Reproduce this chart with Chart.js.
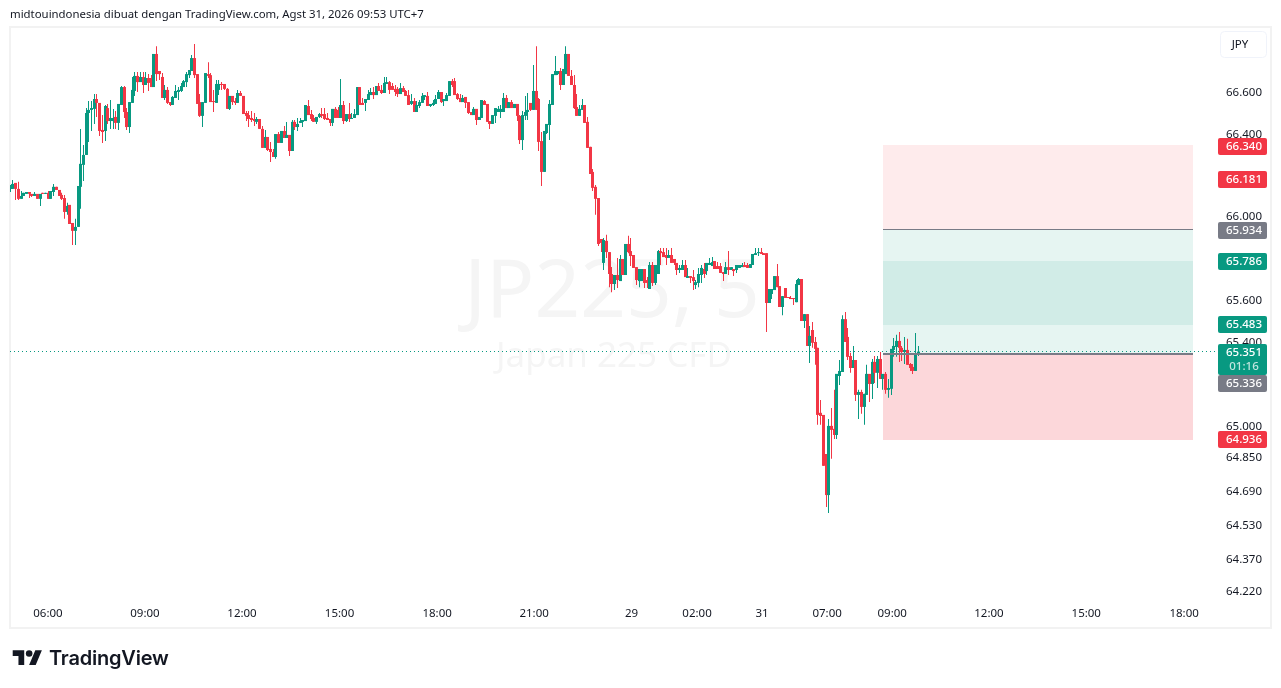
<!DOCTYPE html>
<html>
<head>
<meta charset="utf-8">
<title>JP225, 5</title>
<script src="https://cdn.jsdelivr.net/npm/chart.js@4/dist/chart.umd.min.js"></script>
<style>
    html, body { margin: 0; padding: 0; background: #fff; overflow: hidden; }
    #wrap { position: relative; width: 1281px; height: 688px; }
    #chart { position: absolute; left: 0; top: 0; }
    #header { position: absolute; left: 10px; top: 6px; font: 11.4px "Noto Sans", sans-serif; color: #131722; white-space: nowrap; }
    #logo { position: absolute; left: 12px; top: 647px; }
    #brand { position: absolute; left: 49px; top: 646px; font: 600 20px Inter, sans-serif; color: #131722; letter-spacing: -0.2px; }
</style>
</head>
<body>
<div id="wrap">
    <canvas id="chart" width="1281" height="688"></canvas>
    <div id="header">midtouindonesia dibuat dengan TradingView.com, Agst 31, 2026 09:53 UTC+7</div>
    <svg id="logo" width="31" height="23" viewBox="0 0 36 28"><path fill="#131722" d="M14 22H7V11H0V4h14v18zM28 22h-8l7.5-18h8L28 22z"/><circle fill="#131722" cx="20" cy="8" r="4"/></svg>
    <div id="brand">TradingView</div>
</div>
<script>
// Candles (5 minute bars, oldest first)
const opens = [
66.131,66.131,66.160,66.131,66.083,66.097,66.107,66.116,66.107,66.097,
66.107,66.083,66.112,66.107,66.112,66.083,66.116,66.141,66.126,66.102,
66.087,66.020,66.054,65.967,65.929,65.948,66.141,66.247,66.295,66.498,
66.513,66.518,66.566,66.547,66.416,66.411,66.522,66.459,66.459,66.479,
66.450,66.537,66.624,66.503,66.430,66.547,66.605,66.678,66.648,66.673,
66.634,66.668,66.668,66.624,66.785,66.702,66.673,66.571,66.610,66.551,
66.537,66.571,66.600,66.605,66.624,66.648,66.682,66.702,66.765,66.687,
66.551,66.484,66.547,66.687,66.682,66.556,66.547,66.610,66.639,66.639,
66.615,66.518,66.581,66.556,66.547,66.595,66.581,66.498,66.488,66.474,
66.469,66.455,66.469,66.421,66.329,66.382,66.324,66.309,66.285,66.396,
66.353,66.411,66.377,66.392,66.314,66.455,66.430,66.450,66.455,66.459,
66.532,66.493,66.474,66.455,66.479,66.493,66.493,66.474,66.469,66.450,
66.518,66.513,66.474,66.537,66.459,66.493,66.469,66.474,66.488,66.624,
66.547,66.547,66.561,66.585,66.600,66.585,66.629,66.610,66.595,66.639,
66.648,66.629,66.615,66.615,66.590,66.619,66.605,66.585,66.542,66.556,
66.503,66.532,66.547,66.576,66.581,66.532,66.537,66.542,66.566,66.600,
66.556,66.556,66.581,66.653,66.653,66.590,66.571,66.551,66.576,66.551,
66.503,66.488,66.518,66.464,66.474,66.556,66.542,66.459,66.445,66.484,
66.503,66.503,66.503,66.571,66.522,66.551,66.522,66.542,66.484,66.367,
66.484,66.503,66.547,66.513,66.605,66.566,66.362,66.213,66.401,66.440,
66.537,66.682,66.687,66.702,66.634,66.687,66.785,66.678,66.634,66.527,
66.484,66.513,66.537,66.455,66.334,66.213,66.141,66.087,65.890,65.775,
65.881,65.827,65.722,65.674,65.717,65.688,65.794,65.717,65.866,65.832,
65.813,65.755,65.688,65.688,65.746,65.693,65.650,65.765,65.679,65.722,
65.832,65.827,65.813,65.799,65.813,65.794,65.775,65.741,65.741,65.765,
65.703,65.712,65.707,65.669,65.679,65.717,65.746,65.736,65.765,65.760,
65.784,65.760,65.760,65.731,65.722,65.755,65.741,65.746,65.741,65.751,
65.755,65.765,65.765,65.751,65.765,65.813,65.822,65.827,65.822,65.822,
65.583,65.626,65.645,65.712,65.664,65.564,65.655,65.611,65.607,65.607,
65.587,65.669,65.698,65.497,65.530,65.378,65.454,65.397,65.369,65.060,
65.050,64.865,64.671,64.998,64.984,64.955,65.235,65.254,65.506,65.421,
65.330,65.273,65.311,65.145,65.159,65.088,65.145,65.245,65.197,65.302,
65.250,65.316,65.221,65.245,65.169,65.174,65.359,65.373,65.402,65.369,
65.349,65.359,65.292,65.278,65.259,65.340];
const highs = [
66.150,66.174,66.160,66.165,66.121,66.112,66.116,66.116,66.107,66.116,
66.107,66.107,66.112,66.112,66.121,66.121,66.155,66.141,66.126,66.112,
66.102,66.064,66.054,65.967,65.987,66.145,66.421,66.343,66.522,66.556,
66.556,66.590,66.590,66.547,66.488,66.537,66.542,66.561,66.518,66.508,
66.542,66.629,66.629,66.522,66.551,66.673,66.697,66.697,66.697,66.697,
66.697,66.687,66.682,66.785,66.823,66.702,66.692,66.634,66.624,66.551,
66.581,66.634,66.624,66.644,66.658,66.697,66.707,66.780,66.833,66.687,
66.590,66.551,66.692,66.745,66.692,66.610,66.658,66.658,66.648,66.639,
66.619,66.581,66.581,66.571,66.610,66.605,66.581,66.508,66.508,66.508,
66.498,66.479,66.469,66.435,66.416,66.382,66.358,66.324,66.396,66.406,
66.411,66.435,66.455,66.392,66.464,66.464,66.474,66.474,66.464,66.537,
66.561,66.513,66.488,66.479,66.498,66.522,66.522,66.498,66.469,66.518,
66.527,66.527,66.663,66.556,66.493,66.547,66.498,66.518,66.624,66.624,
66.571,66.566,66.610,66.619,66.624,66.629,66.644,66.634,66.673,66.673,
66.653,66.644,66.634,66.624,66.644,66.629,66.610,66.610,66.590,66.571,
66.556,66.561,66.595,66.585,66.600,66.542,66.561,66.585,66.610,66.600,
66.566,66.595,66.653,66.663,66.668,66.595,66.590,66.585,66.576,66.551,
66.503,66.527,66.518,66.479,66.561,66.561,66.542,66.459,66.488,66.522,
66.532,66.537,66.595,66.585,66.551,66.561,66.542,66.542,66.488,66.508,
66.581,66.595,66.547,66.731,66.823,66.571,66.406,66.411,66.445,66.561,
66.687,66.775,66.702,66.717,66.712,66.823,66.785,66.707,66.682,66.590,
66.537,66.566,66.537,66.479,66.334,66.227,66.150,66.087,65.890,65.895,
65.910,65.827,65.755,65.717,65.799,65.813,65.794,65.866,65.905,65.895,
65.813,65.755,65.746,65.746,65.746,65.707,65.779,65.779,65.765,65.837,
65.847,65.847,65.847,65.837,65.847,65.794,65.775,65.765,65.789,65.789,
65.751,65.712,65.741,65.693,65.751,65.765,65.775,65.775,65.799,65.803,
65.784,65.779,65.775,65.731,65.779,65.832,65.755,65.746,65.765,65.765,
65.775,65.779,65.775,65.770,65.818,65.847,65.847,65.847,65.822,65.822,
65.650,65.650,65.712,65.770,65.664,65.616,65.655,65.611,65.616,65.607,
65.693,65.703,65.698,65.530,65.530,65.473,65.492,65.421,65.369,65.121,
65.050,64.865,65.031,65.083,65.169,65.245,65.311,65.525,65.540,65.464,
65.345,65.378,65.311,65.169,65.169,65.150,65.288,65.245,65.316,65.330,
65.330,65.349,65.245,65.254,65.221,65.364,65.416,65.431,65.445,65.378,
65.421,65.412,65.297,65.292,65.440,65.378];
const lows = [
66.116,66.131,66.078,66.078,66.083,66.097,66.107,66.087,66.092,66.097,
66.083,66.049,66.107,66.107,66.083,66.083,66.097,66.126,66.097,66.078,
65.987,66.006,65.962,65.861,65.861,65.948,66.035,66.169,66.295,66.358,
66.411,66.445,66.479,66.387,66.353,66.362,66.445,66.421,66.421,66.421,
66.416,66.537,66.474,66.416,66.401,66.547,66.581,66.600,66.648,66.595,
66.634,66.605,66.624,66.624,66.653,66.658,66.571,66.561,66.542,66.532,
66.537,66.571,66.561,66.600,66.624,66.624,66.668,66.702,66.668,66.542,
66.479,66.430,66.547,66.668,66.551,66.503,66.547,66.585,66.610,66.610,
66.518,66.513,66.537,66.537,66.547,66.581,66.493,66.459,66.430,66.455,
66.435,66.445,66.421,66.329,66.329,66.314,66.261,66.285,66.276,66.353,
66.353,66.377,66.377,66.290,66.314,66.416,66.411,66.450,66.430,66.459,
66.488,66.459,66.455,66.445,66.474,66.474,66.464,66.464,66.435,66.435,
66.474,66.474,66.474,66.445,66.455,66.455,66.469,66.474,66.488,66.537,
66.537,66.508,66.561,66.585,66.566,66.585,66.605,66.590,66.595,66.639,
66.590,66.610,66.581,66.576,66.590,66.600,66.581,66.537,66.537,66.503,
66.503,66.522,66.547,66.561,66.532,66.527,66.532,66.542,66.566,66.547,
66.532,66.556,66.581,66.624,66.585,66.561,66.551,66.551,66.522,66.493,
66.488,66.488,66.440,66.464,66.474,66.537,66.455,66.421,66.445,66.450,
66.503,66.474,66.503,66.522,66.522,66.522,66.522,66.459,66.348,66.319,
66.464,66.464,66.508,66.513,66.513,66.314,66.145,66.213,66.396,66.367,
66.537,66.682,66.682,66.610,66.634,66.687,66.678,66.634,66.518,66.484,
66.484,66.513,66.450,66.329,66.203,66.121,66.006,65.856,65.827,65.741,
65.799,65.659,65.635,65.645,65.655,65.688,65.717,65.717,65.822,65.760,
65.751,65.669,65.659,65.688,65.655,65.655,65.650,65.664,65.669,65.722,
65.765,65.803,65.765,65.799,65.775,65.765,65.717,65.727,65.741,65.707,
65.703,65.679,65.645,65.650,65.659,65.679,65.703,65.717,65.765,65.760,
65.746,65.746,65.727,65.688,65.722,65.717,65.741,65.712,65.727,65.751,
65.755,65.755,65.751,65.751,65.765,65.813,65.808,65.818,65.813,65.445,
65.583,65.602,65.645,65.659,65.564,65.525,65.607,65.607,65.602,65.573,
65.587,65.669,65.497,65.464,65.378,65.297,65.369,65.288,65.003,65.003,
64.809,64.615,64.587,64.842,64.936,64.936,65.192,65.254,65.397,65.311,
65.250,65.273,65.116,65.031,65.055,65.003,65.145,65.111,65.126,65.202,
65.178,65.221,65.169,65.150,65.131,65.145,65.326,65.326,65.302,65.306,
65.292,65.288,65.259,65.245,65.259,65.330];
const closes = [
66.145,66.155,66.131,66.083,66.097,66.112,66.116,66.107,66.097,66.107,
66.083,66.107,66.107,66.112,66.083,66.121,66.141,66.126,66.097,66.083,
66.020,66.049,65.962,65.929,65.948,66.145,66.252,66.295,66.498,66.513,
66.522,66.566,66.547,66.411,66.406,66.532,66.459,66.474,66.474,66.450,
66.542,66.624,66.503,66.430,66.551,66.610,66.678,66.648,66.673,66.634,
66.668,66.644,66.624,66.785,66.687,66.687,66.571,66.610,66.547,66.537,
66.576,66.605,66.610,66.629,66.653,66.687,66.707,66.765,66.682,66.542,
66.484,66.551,66.692,66.678,66.551,66.551,66.639,66.639,66.634,66.615,
66.518,66.581,66.551,66.547,66.595,66.581,66.493,66.484,66.469,66.464,
66.459,66.469,66.421,66.329,66.382,66.319,66.309,66.285,66.396,66.353,
66.411,66.377,66.392,66.314,66.455,66.430,66.445,66.459,66.464,66.537,
66.488,66.469,66.455,66.479,66.493,66.484,66.469,66.464,66.450,66.518,
66.474,66.474,66.537,66.459,66.493,66.469,66.474,66.493,66.624,66.537,
66.537,66.566,66.590,66.600,66.585,66.629,66.605,66.595,66.644,66.648,
66.610,66.610,66.600,66.590,66.619,66.600,66.581,66.537,66.556,66.503,
66.537,66.551,66.581,66.585,66.532,66.542,66.547,66.566,66.600,66.551,
66.566,66.585,66.653,66.634,66.585,66.566,66.551,66.571,66.547,66.498,
66.488,66.518,66.464,66.479,66.561,66.537,66.455,66.445,66.488,66.522,
66.518,66.518,66.571,66.522,66.551,66.522,66.542,66.484,66.367,66.488,
66.503,66.513,66.513,66.605,66.513,66.358,66.213,66.411,66.445,66.542,
66.687,66.702,66.702,66.634,66.712,66.785,66.678,66.634,66.522,66.484,
66.518,66.537,66.450,66.329,66.203,66.136,66.083,65.866,65.871,65.885,
65.827,65.722,65.674,65.717,65.693,65.794,65.717,65.866,65.827,65.808,
65.751,65.693,65.746,65.746,65.679,65.679,65.765,65.679,65.765,65.832,
65.822,65.803,65.799,65.813,65.775,65.775,65.741,65.751,65.765,65.707,
65.712,65.703,65.688,65.683,65.722,65.751,65.722,65.775,65.775,65.779,
65.746,65.746,65.727,65.722,65.755,65.741,65.755,65.736,65.765,65.765,
65.765,65.755,65.751,65.770,65.818,65.822,65.827,65.818,65.813,65.583,
65.650,65.650,65.712,65.659,65.564,65.616,65.607,65.607,65.602,65.602,
65.674,65.698,65.497,65.530,65.378,65.426,65.393,65.364,65.050,65.045,
64.809,64.671,64.998,64.979,64.955,65.245,65.259,65.506,65.397,65.326,
65.273,65.311,65.145,65.159,65.088,65.150,65.245,65.197,65.302,65.250,
65.316,65.221,65.245,65.169,65.178,65.364,65.378,65.402,65.369,65.349,
65.359,65.288,65.273,65.259,65.340,65.351];

// Axis ticks
const priceTicks = [66.6, 66.4, 66.0, 65.6, 65.4, 65.0, 64.85, 64.69, 64.53, 64.37, 64.22];
const timeTickBars = [13.9, 49.7, 85.5, 121.5, 157.5, 193.3, 229.2, 253.4, 277.4, 301.4, 325.4, 361.1, 397, 433.1];
const timeTickLabels = ["06:00", "09:00", "12:00", "15:00", "18:00", "21:00", "29", "02:00", "31", "07:00", "09:00", "12:00", "15:00", "18:00"];

// Position tool levels and the labels on the price axis
const lastPrice = 65.351;
const countdown = "01:16";
const boxBars = [322, 436.4];
const boxLevels = [66.342, 65.936, 65.786, 65.479, 65.336, 64.933];
const entryLevels = [65.934, 65.336];
const tagPrices = [66.340, 66.181, 65.934, 65.786, 65.483, 65.351, 65.336, 64.936];

const green = "#089981";
const red = "#F23645";
const gray = "#787B86";
const tagColours = [red, red, gray, green, green, green, gray, red];
const uiFont = '"Noto Sans", sans-serif';

// Marks that Chart.js has no element for: frame, watermark, boxes and price tags
const overlay = {
    id: "overlay",
    beforeDraw(chart) {
        const ctx = chart.ctx;
        ctx.save();
        ctx.strokeStyle = "#F2F2F2";
        ctx.lineWidth = 2;
        ctx.strokeRect(10, 27, 1261, 601);
        ctx.restore();
    },
    beforeDatasetsDraw(chart) {
        const ctx = chart.ctx;
        const x = chart.scales.x;
        const y = chart.scales.y;
        const area = chart.chartArea;
        const cx = (area.left + area.right) / 2;

        // Keep wicks on whole pixels so they stay crisp
        chart.data.datasets.forEach((d, n) => {
            chart.getDatasetMeta(n).data.forEach(bar => { bar.x = Math.floor(bar.x) + 0.5; });
        });

        ctx.save();
        // Watermark
        ctx.fillStyle = "#F5F5F5";
        ctx.textAlign = "center";
        ctx.textBaseline = "alphabetic";
        ctx.font = "80px " + uiFont;
        ctx.fillText("JP225, 5", cx + 1, 317);
        ctx.font = "35px " + uiFont;
        ctx.fillText("Japan 225 CFD", cx + 3, 367);

        // Position boxes, top to bottom
        const left = Math.round(x.getPixelForValue(boxBars[0]));
        const right = Math.round(x.getPixelForValue(boxBars[1]));
        const fills = ["rgba(242,54,69,0.1)", "rgba(8,153,129,0.1)", "rgba(8,153,129,0.19)", "rgba(8,153,129,0.1)", "rgba(242,54,69,0.2)"];
        fills.forEach((fill, i) => {
            const top = Math.round(y.getPixelForValue(boxLevels[i]));
            const bottom = Math.round(y.getPixelForValue(boxLevels[i + 1]));
            ctx.fillStyle = fill;
            ctx.fillRect(left, top, right - left, bottom - top);
        });

        // Last price dotted line
        const lastY = Math.floor(y.getPixelForValue(lastPrice)) + 0.5;
        ctx.strokeStyle = green;
        ctx.lineWidth = 1;
        ctx.setLineDash([1, 3]);
        ctx.beginPath();
        ctx.moveTo(area.left, lastY);
        ctx.lineTo(1218, lastY);
        ctx.stroke();
        ctx.restore();
    },
    afterDraw(chart) {
        const ctx = chart.ctx;
        const x = chart.scales.x;
        const y = chart.scales.y;
        const left = Math.round(x.getPixelForValue(boxBars[0]));
        const right = Math.round(x.getPixelForValue(boxBars[1]));

        ctx.save();
        // Entry lines of the two position tools
        ctx.strokeStyle = gray;
        entryLevels.forEach((level, i) => {
            const py = Math.round(y.getPixelForValue(level));
            ctx.lineWidth = i === 0 ? 1 : 2;
            ctx.beginPath();
            ctx.moveTo(left, i === 0 ? py - 0.5 : py - 1);
            ctx.lineTo(right, i === 0 ? py - 0.5 : py - 1);
            ctx.stroke();
        });

        // Price tags, pushed down when they would overlap
        ctx.textBaseline = "middle";
        ctx.textAlign = "center";
        let lastBottom = 0;
        tagPrices.forEach((price, i) => {
            const isLast = price === lastPrice;
            const h = isLast ? 31 : 17;
            const top = Math.max(lastBottom, Math.round(y.getPixelForValue(price) - 8));
            lastBottom = top + h;
            ctx.fillStyle = tagColours[i];
            ctx.beginPath();
            ctx.roundRect(1218, top, 49, h, 2);
            ctx.fill();
            ctx.fillStyle = "#fff";
            ctx.font = "500 11.5px " + uiFont;
            ctx.fillText(price.toFixed(3), 1244, top + 8.5);
            if (isLast) {
                ctx.fillStyle = "rgba(255,255,255,0.75)";
                ctx.fillText(countdown, 1244, top + 22.5);
            }
        });

        // Currency button
        ctx.strokeStyle = "#F0F3FA";
        ctx.lineWidth = 1;
        ctx.beginPath();
        ctx.roundRect(1220.5, 31.5, 46, 26, 4);
        ctx.stroke();
        ctx.fillStyle = "#131722";
        ctx.font = "11.5px " + uiFont;
        ctx.fillText("JPY", 1240, 45);
        ctx.restore();
    }
};

const chart = new Chart(document.getElementById("chart").getContext("2d"), {
    type: "bar",
    data: {
        datasets: [
            {
                // Wicks
                data: opens.map((o, i) => ({ x: i, y: [lows[i], highs[i]] })),
                backgroundColor: opens.map((o, i) => closes[i] >= o ? green : red),
                barThickness: 1,
                minBarLength: 1
            },
            {
                // Bodies
                data: opens.map((o, i) => ({ x: i, y: [o, closes[i]] })),
                backgroundColor: opens.map((o, i) => closes[i] >= o ? green : red),
                barThickness: 3,
                minBarLength: 1
            }
        ]
    },
    options: {
        responsive: false,
        animation: false,
        devicePixelRatio: 1,
        grouped: false,
        inflateAmount: 0,
        layout: { padding: { left: 10, right: 10, top: 28, bottom: 60 } },
        plugins: { legend: { display: false }, tooltip: { enabled: false } },
        scales: {
            x: {
                type: "linear",
                min: -0.1,
                max: 443.4,
                offset: false,
                grid: { display: false, drawTicks: false },
                border: { display: false },
                afterFit: scale => { scale.height = 28; },
                afterBuildTicks: scale => { scale.ticks = timeTickBars.map(v => ({ value: v })); },
                ticks: {
                    autoSkip: false,
                    maxRotation: 0,
                    padding: 7,
                    color: "#131722",
                    font: { family: uiFont, size: 11.5 },
                    callback: (v, i) => timeTickLabels[i]
                }
            },
            y: {
                type: "logarithmic",
                position: "right",
                bounds: "data",
                min: 64.178,
                max: 66.9115,
                grid: { display: false, drawTicks: false },
                border: { display: false },
                afterFit: scale => { scale.width = 59; },
                afterBuildTicks: scale => { scale.ticks = priceTicks.map(v => ({ value: v })); },
                ticks: {
                    autoSkip: false,
                    padding: 14,
                    labelOffset: 1,
                    color: "#131722",
                    font: { family: uiFont, size: 11.5 },
                    callback: v => v.toFixed(3)
                }
            }
        }
    },
    plugins: [overlay]
});
</script>
</body>
</html>
